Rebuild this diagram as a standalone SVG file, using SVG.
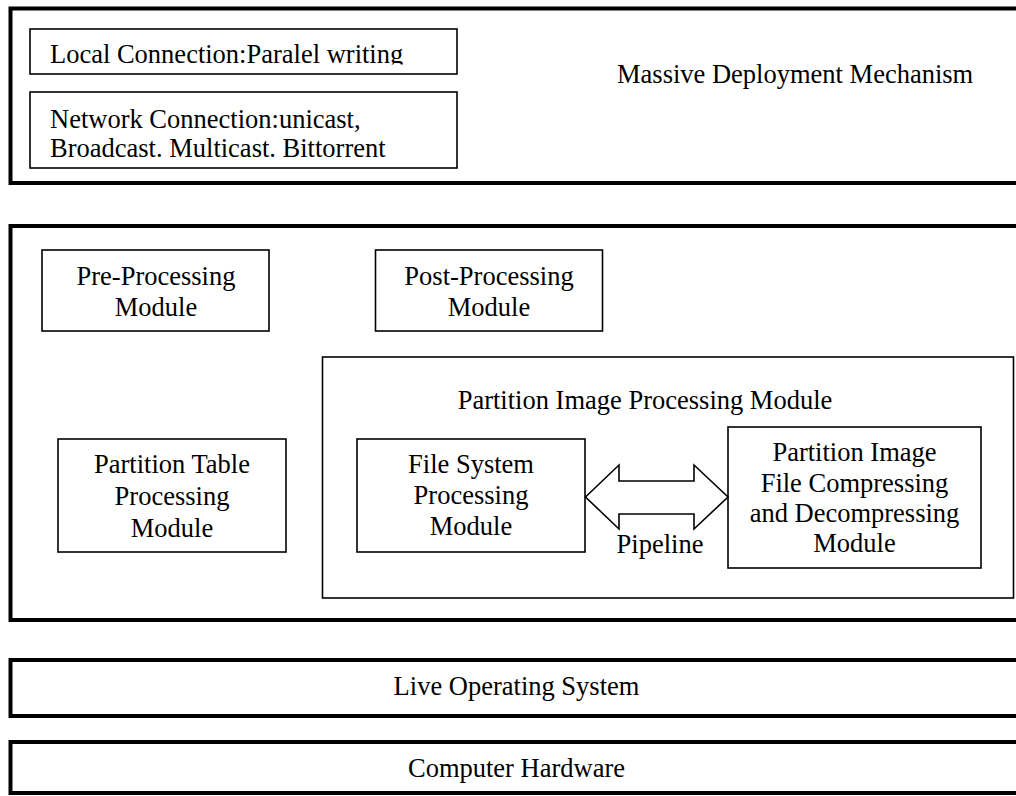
<svg xmlns="http://www.w3.org/2000/svg" width="1016" height="796" viewBox="0 0 1016 796">
  <style>
    .frame { fill: none; stroke: #000; stroke-width: 4; }
    .box { fill: none; stroke: #000; stroke-width: 1.6; }
    .t { font-family: "Liberation Serif", "Times New Roman", serif; font-size: 26.5px; fill: #000; }
    .c { text-anchor: middle; }
    .arrow { fill: #fff; stroke: #000; stroke-width: 1.6; stroke-linejoin: miter; }
  </style>
  <defs>
    <clipPath id="clipLocal">
      <rect x="30" y="29" width="427" height="35.5"/>
    </clipPath>
  </defs>
  <rect width="1016" height="796" fill="#fff"/>

  <g id="massive-deployment">
    <rect class="frame" x="10.5" y="8.5" width="1030" height="174.5"/>
    <text class="t" x="617" y="83">Massive Deployment Mechanism</text>
  </g>
  <g id="local-connection">
    <rect class="box" x="30" y="29" width="427" height="45"/>
    <text class="t" x="50" y="63" font-size="26" clip-path="url(#clipLocal)">Local Connection:Paralel writing</text>
  </g>
  <g id="network-connection">
    <rect class="box" x="30" y="92" width="427" height="76"/>
    <text class="t" x="50" y="128">Network Connection:unicast,</text>
    <text class="t" x="50" y="157">Broadcast. Multicast. Bittorrent</text>
  </g>

  <g id="processing-layer">
    <rect class="frame" x="10.5" y="226" width="1030" height="394"/>
  </g>
  <g id="pre-processing">
    <rect class="box" x="42" y="250" width="227" height="81"/>
    <text class="t c" x="156" y="285">Pre-Processing</text>
    <text class="t c" x="156" y="316">Module</text>
  </g>
  <g id="post-processing">
    <rect class="box" x="375.5" y="250" width="227" height="81"/>
    <text class="t c" x="489" y="285">Post-Processing</text>
    <text class="t c" x="489" y="316">Module</text>
  </g>
  <g id="partition-table">
    <rect class="box" x="58" y="439" width="228" height="113"/>
    <text class="t c" x="172" y="473">Partition Table</text>
    <text class="t c" x="172" y="504.5">Processing</text>
    <text class="t c" x="172" y="536.5">Module</text>
  </g>
  <g id="partition-image-processing">
    <rect class="box" x="322.5" y="357" width="691" height="241"/>
    <text class="t c" x="645" y="409">Partition Image Processing Module</text>
  </g>
  <g id="file-system">
    <rect class="box" x="357" y="439" width="228" height="113"/>
    <text class="t c" x="471" y="473">File System</text>
    <text class="t c" x="471" y="503.5">Processing</text>
    <text class="t c" x="471" y="534.5">Module</text>
  </g>
  <g id="compress-module">
    <rect class="box" x="728" y="427" width="253" height="141"/>
    <text class="t c" x="854.5" y="461">Partition Image</text>
    <text class="t c" x="854.5" y="491.5">File Compressing</text>
    <text class="t c" x="854.5" y="521.5">and Decompressing</text>
    <text class="t c" x="854.5" y="551.5">Module</text>
  </g>

  <g id="connectors">
    <polygon class="arrow" points="585.5,497 619,465 619,481 694,481 694,465 728,497 694,529 694,514 619,514 619,529"/>
    <text class="t c" x="660" y="553">Pipeline</text>
  </g>

  <g id="live-os">
    <rect class="frame" x="10.5" y="660" width="1030" height="56"/>
    <text class="t c" x="516.5" y="695">Live Operating System</text>
  </g>
  <g id="computer-hardware">
    <rect class="frame" x="10.5" y="742" width="1030" height="51"/>
    <text class="t c" x="516.5" y="777">Computer Hardware</text>
  </g>
</svg>
